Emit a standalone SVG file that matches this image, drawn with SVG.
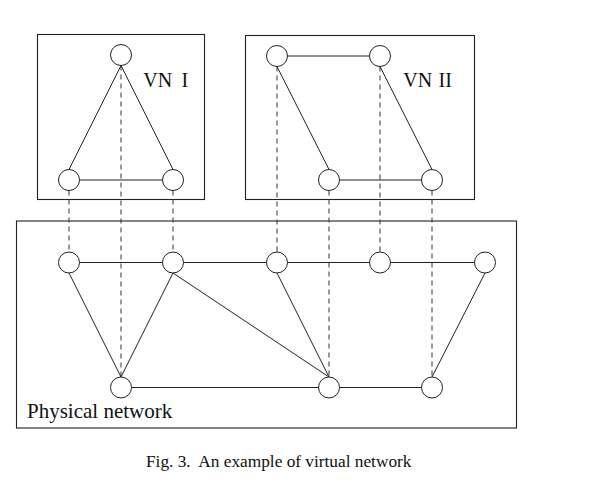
<svg xmlns="http://www.w3.org/2000/svg" width="595" height="481" viewBox="0 0 595 481">
<style>
.box{fill:none;stroke:#222;stroke-width:1.1}
.e{stroke:#222;stroke-width:1;fill:none}
.d{stroke:#333;stroke-width:1;stroke-dasharray:5,4;fill:none}
.n{fill:#fff;stroke:#222;stroke-width:1}
.t{font-family:"Liberation Serif","Times New Roman",serif;fill:#111}
</style>
<rect width="595" height="481" fill="#fff"/>
<g id="vn1-box"><rect class="box" x="37.5" y="34.5" width="167" height="165"/><text class="t" x="143.3" y="87.3" font-size="20">VN <tspan x="181.5">I</tspan></text></g>
<g id="vn2-box"><rect class="box" x="245.5" y="35.5" width="229" height="164"/><text class="t" x="403.3" y="87.3" font-size="20">VN <tspan x="438.5">II</tspan></text></g>
<g id="phys-box"><rect class="box" x="16.5" y="221" width="500" height="207"/><text class="t" x="27" y="418" font-size="21">Physical network</text></g>
<g id="connectors">
<line class="d" x1="69" y1="190.5" x2="69" y2="252"/>
<line class="d" x1="121" y1="65.5" x2="121" y2="377"/>
<line class="d" x1="173" y1="190.5" x2="173" y2="252"/>
<line class="d" x1="277" y1="66.5" x2="277" y2="252"/>
<line class="d" x1="329" y1="190.5" x2="329" y2="377"/>
<line class="d" x1="380" y1="66.5" x2="380" y2="252"/>
<line class="d" x1="432" y1="190.5" x2="432" y2="377"/>
<line class="e" x1="121" y1="65.5" x2="69" y2="169.5"/>
<line class="e" x1="121" y1="65.5" x2="173" y2="169.5"/>
<line class="e" x1="69" y1="180" x2="173" y2="180"/>
<line class="e" x1="277" y1="56" x2="380" y2="56"/>
<line class="e" x1="277" y1="66.5" x2="329" y2="169.5"/>
<line class="e" x1="380" y1="66.5" x2="432" y2="169.5"/>
<line class="e" x1="329" y1="180" x2="432" y2="180"/>
<line class="e" x1="69" y1="262.5" x2="485" y2="262.5"/>
<line class="e" x1="69" y1="273" x2="121" y2="377"/>
<line class="e" x1="173" y1="273" x2="121" y2="377"/>
<line class="e" x1="173" y1="273" x2="329" y2="377"/>
<line class="e" x1="277" y1="273" x2="329" y2="377"/>
<line class="e" x1="485" y1="273" x2="432" y2="377"/>
<line class="e" x1="121" y1="387.5" x2="432" y2="387.5"/>
</g>
<g id="vn1-a"><circle class="n" cx="121" cy="55" r="10.5"/></g>
<g id="vn1-b"><circle class="n" cx="69" cy="180" r="10.5"/></g>
<g id="vn1-c"><circle class="n" cx="173" cy="180" r="10.5"/></g>
<g id="vn2-a"><circle class="n" cx="277" cy="56" r="10.5"/></g>
<g id="vn2-b"><circle class="n" cx="380" cy="56" r="10.5"/></g>
<g id="vn2-c"><circle class="n" cx="329" cy="180" r="10.5"/></g>
<g id="vn2-d"><circle class="n" cx="432" cy="180" r="10.5"/></g>
<g id="p1"><circle class="n" cx="69" cy="262.5" r="10.5"/></g>
<g id="p2"><circle class="n" cx="173" cy="262.5" r="10.5"/></g>
<g id="p3"><circle class="n" cx="277" cy="262.5" r="10.5"/></g>
<g id="p4"><circle class="n" cx="380" cy="262.5" r="10.5"/></g>
<g id="p5"><circle class="n" cx="485" cy="262.5" r="10.5"/></g>
<g id="q1"><circle class="n" cx="121" cy="387.5" r="10.5"/></g>
<g id="q2"><circle class="n" cx="329" cy="387.5" r="10.5"/></g>
<g id="q3"><circle class="n" cx="432" cy="387.5" r="10.5"/></g>
<g id="caption"><text class="t" x="146" y="467" font-size="17.3" xml:space="preserve">Fig. 3.  An example of virtual network</text></g>
</svg>
